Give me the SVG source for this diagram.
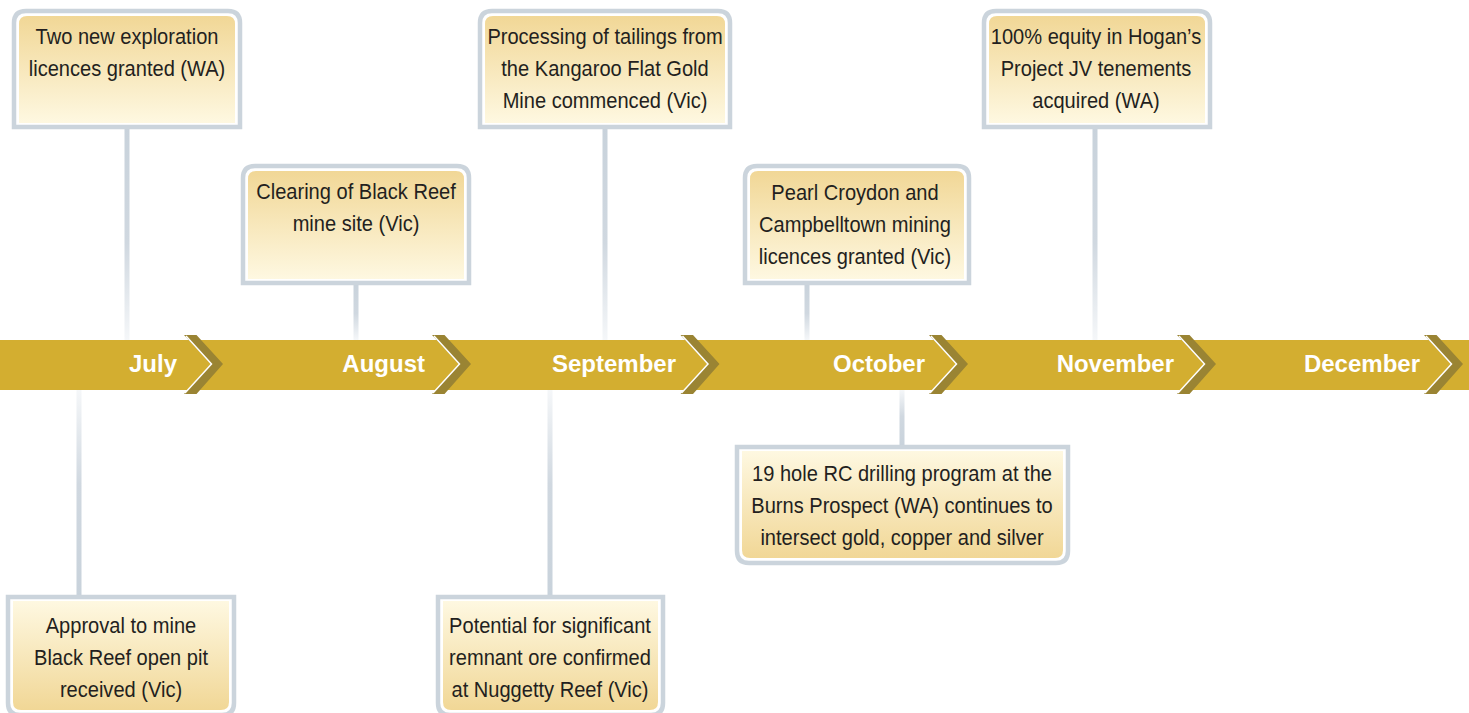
<svg xmlns="http://www.w3.org/2000/svg" xmlns:xlink="http://www.w3.org/1999/xlink" width="1469" height="713" viewBox="0 0 1469 713">
<style>
.frame{fill:#ffffff;stroke:#cbd4dc;stroke-width:4.5}
.up{fill:url(#gu)}
.dn{fill:url(#gd)}
.t{font-family:"Liberation Sans",Arial,sans-serif;font-size:22.3px;fill:#231f20;text-anchor:middle}
.m{font-family:"Liberation Sans",Arial,sans-serif;font-weight:bold;font-size:24px;fill:#ffffff;text-anchor:end}
.chev{fill:#9a8433}
.hl{fill:none;stroke:#ffffff;stroke-width:1.5}
</style>
<defs>
<linearGradient id="gu" x1="0" y1="0" x2="0" y2="1">
<stop offset="0" stop-color="#f1d796"/>
<stop offset="1" stop-color="#fef8e1"/>
</linearGradient>
<linearGradient id="gd" x1="0" y1="0" x2="0" y2="1">
<stop offset="0" stop-color="#fef8e1"/>
<stop offset="1" stop-color="#f1d796"/>
</linearGradient>
<linearGradient id="cu" x1="0" y1="0" x2="0" y2="1">
<stop offset="0" stop-color="#c8d2db"/>
<stop offset="0.55" stop-color="#d0d8e0"/>
<stop offset="1" stop-color="#f5f7f9"/>
</linearGradient>
<linearGradient id="cd" x1="0" y1="0" x2="0" y2="1">
<stop offset="0" stop-color="#f5f7f9"/>
<stop offset="0.45" stop-color="#d0d8e0"/>
<stop offset="1" stop-color="#c8d2db"/>
</linearGradient>
<g id="chevron">
<path class="chev" d="M0,335 H12.5 L39,364 L12.5,394 H0 L27,364 Z"/>
<polyline class="hl" points="2,336 27.5,364 1,393"/>
</g>
</defs>

<g id="connectors">
<rect x="124.5" y="125" width="5" height="215" fill="url(#cu)"/>
<rect x="353.5" y="281" width="5" height="59" fill="url(#cu)"/>
<rect x="602.5" y="125" width="5" height="215" fill="url(#cu)"/>
<rect x="804.5" y="281" width="5" height="59" fill="url(#cu)"/>
<rect x="1092.5" y="125" width="5" height="215" fill="url(#cu)"/>
<rect x="76.5" y="390" width="5" height="209" fill="url(#cd)"/>
<rect x="547.5" y="390" width="5" height="209" fill="url(#cd)"/>
<rect x="899.5" y="390" width="5" height="59" fill="url(#cd)"/>
</g>

<g id="timeline">
<rect x="0" y="340" width="1469" height="50" fill="#d3ae30"/>
<use xlink:href="#chevron" x="184"/>
<use xlink:href="#chevron" x="432"/>
<use xlink:href="#chevron" x="680.5"/>
<use xlink:href="#chevron" x="929"/>
<use xlink:href="#chevron" x="1177"/>
<use xlink:href="#chevron" x="1424"/>
<text class="m" x="177" y="372">July</text>
<text class="m" x="425" y="372">August</text>
<text class="m" x="676" y="372">September</text>
<text class="m" x="925" y="372">October</text>
<text class="m" x="1174" y="372">November</text>
<text class="m" x="1420" y="372">December</text>
</g>

<g id="box1">
<path class="frame" d="M14,127 V23 Q14,11 26,11 H228 Q240,11 240,23 V127 Z"/>
<path class="up" d="M19,123 V24 Q19,16 27,16 H227 Q235,16 235,24 V123 Z"/>
<text class="t" transform="matrix(0.9 0 0 1 127 44)">Two new exploration</text>
<text class="t" transform="matrix(0.9 0 0 1 127 76)">licences granted (WA)</text>
</g>

<g id="box2">
<path class="frame" d="M243,283 V178 Q243,166 255,166 H457 Q469,166 469,178 V283 Z"/>
<path class="up" d="M248,279 V179 Q248,171 256,171 H456 Q464,171 464,179 V279 Z"/>
<text class="t" transform="matrix(0.9 0 0 1 356 199)">Clearing of Black Reef</text>
<text class="t" transform="matrix(0.9 0 0 1 356 231)">mine site (Vic)</text>
</g>

<g id="box3">
<path class="frame" d="M480,127 V23 Q480,11 492,11 H718 Q730,11 730,23 V127 Z"/>
<path class="up" d="M485,123 V24 Q485,16 493,16 H717 Q725,16 725,24 V123 Z"/>
<text class="t" transform="matrix(0.9 0 0 1 605 44)">Processing of tailings from</text>
<text class="t" transform="matrix(0.9 0 0 1 605 76)">the Kangaroo Flat Gold</text>
<text class="t" transform="matrix(0.9 0 0 1 605 108)">Mine commenced (Vic)</text>
</g>

<g id="box4">
<path class="frame" d="M745,283 V178 Q745,166 757,166 H957 Q969,166 969,178 V283 Z"/>
<path class="up" d="M750,279 V179 Q750,171 758,171 H956 Q964,171 964,179 V279 Z"/>
<text class="t" transform="matrix(0.9 0 0 1 855 200)">Pearl Croydon and</text>
<text class="t" transform="matrix(0.9 0 0 1 855 232)">Campbelltown mining</text>
<text class="t" transform="matrix(0.9 0 0 1 855 264)">licences granted (Vic)</text>
</g>

<g id="box5">
<path class="frame" d="M984,127 V23 Q984,11 996,11 H1198 Q1210,11 1210,23 V127 Z"/>
<path class="up" d="M989,123 V24 Q989,16 997,16 H1197 Q1205,16 1205,24 V123 Z"/>
<text class="t" transform="matrix(0.9 0 0 1 1096 44)">100% equity in Hogan’s</text>
<text class="t" transform="matrix(0.9 0 0 1 1096 76)">Project JV tenements</text>
<text class="t" transform="matrix(0.9 0 0 1 1096 108)">acquired (WA)</text>
</g>

<g id="box6">
<path class="frame" d="M8,597 H234 V703 Q234,715 222,715 H20 Q8,715 8,703 Z"/>
<path class="dn" d="M13,601 H229 V702 Q229,710 221,710 H21 Q13,710 13,702 Z"/>
<text class="t" transform="matrix(0.9 0 0 1 121 633)">Approval to mine</text>
<text class="t" transform="matrix(0.9 0 0 1 121 665)">Black Reef open pit</text>
<text class="t" transform="matrix(0.9 0 0 1 121 697)">received (Vic)</text>
</g>

<g id="box7">
<path class="frame" d="M438,597 H663 V703 Q663,715 651,715 H450 Q438,715 438,703 Z"/>
<path class="dn" d="M443,601 H658 V702 Q658,710 650,710 H451 Q443,710 443,702 Z"/>
<text class="t" transform="matrix(0.9 0 0 1 550 633)">Potential for significant</text>
<text class="t" transform="matrix(0.9 0 0 1 550 665)">remnant ore confirmed</text>
<text class="t" transform="matrix(0.9 0 0 1 550 697)">at Nuggetty Reef (Vic)</text>
</g>

<g id="box8">
<path class="frame" d="M737,447 H1068 V551 Q1068,563 1056,563 H749 Q737,563 737,551 Z"/>
<path class="dn" d="M742,451 H1063 V550 Q1063,558 1055,558 H750 Q742,558 742,550 Z"/>
<text class="t" transform="matrix(0.9 0 0 1 902 481)">19 hole RC drilling program at the</text>
<text class="t" transform="matrix(0.9 0 0 1 902 513)">Burns Prospect (WA) continues to</text>
<text class="t" transform="matrix(0.9 0 0 1 902 545)">intersect gold, copper and silver</text>
</g>
</svg>
